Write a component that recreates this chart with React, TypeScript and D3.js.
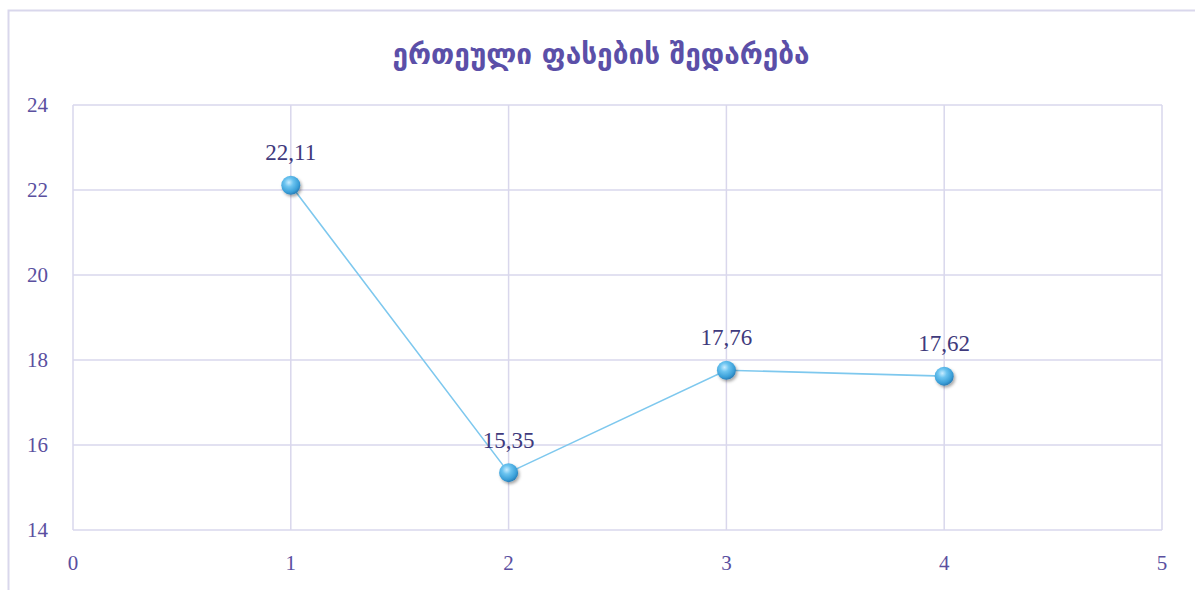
import React from "react";
import * as d3 from "d3";

const categories = [1, 2, 3, 4];
const values = [22.11, 15.35, 17.76, 17.62];
const valueLabels = ["22,11", "15,35", "17,76", "17,62"];
const xTicks = [0, 1, 2, 3, 4, 5];
const yTicks = [14, 16, 18, 20, 22, 24];
const title = "ერთეული ფასების შედარება";

export default function App() {
  const W = 1195, H = 590;
  const left = 73, right = 1162, top = 105, bottom = 530;
  const x = d3.scaleLinear().domain([0, 5]).range([left, right]);
  const y = d3.scaleLinear().domain([14, 24]).range([bottom, top]);
  const line = d3.line<number>().x((_, i) => x(categories[i])).y((d) => y(d));
  const grid = "#d9d7ec";
  const tickColor = "#5a4fa0";
  const serif = "'Liberation Serif', 'DejaVu Serif', serif";
  return (
    <div style={{ position: "fixed", left: 0, top: 0, width: W, height: H, background: "#fff" }}>
      <svg width={W} height={H} style={{ display: "block" }}>
        <defs>
          <radialGradient id="ball" cx="40%" cy="35%" r="65%">
            <stop offset="0%" stopColor="#c8ecff" />
            <stop offset="35%" stopColor="#6cc4f0" />
            <stop offset="80%" stopColor="#3a9fd8" />
            <stop offset="100%" stopColor="#2a7fb8" />
          </radialGradient>
          <filter id="shadow" x="-50%" y="-50%" width="200%" height="200%">
            <feDropShadow dx="1.5" dy="2" stdDeviation="1.5" floodColor="#000" floodOpacity="0.35" />
          </filter>
        </defs>
        <rect x={8.5} y={10.5} width={1200} height={700} fill="#fff" stroke={grid} strokeWidth={2} />
        <text x={601} y={64} textAnchor="middle" fill="#5b4fa8" fontFamily="'DejaVu Sans', sans-serif" fontSize={28} fontWeight="bold">
          {title}
        </text>
        {yTicks.map((t) => (
          <line key={"h" + t} x1={left} x2={right} y1={y(t)} y2={y(t)} stroke={grid} strokeWidth={1.5} />
        ))}
        {xTicks.map((t) => (
          <line key={"v" + t} x1={x(t)} x2={x(t)} y1={top} y2={bottom} stroke={grid} strokeWidth={1.5} />
        ))}
        {yTicks.map((t) => (
          <text key={"yl" + t} x={48} y={y(t)} dy="0.35em" textAnchor="end" fill={tickColor} fontFamily={serif} fontSize={21}>
            {t}
          </text>
        ))}
        {xTicks.map((t) => (
          <text key={"xl" + t} x={x(t)} y={563} dy="0.35em" textAnchor="middle" fill={tickColor} fontFamily={serif} fontSize={21}>
            {t}
          </text>
        ))}
        <path d={line(values) || ""} fill="none" stroke="#7ec8ee" strokeWidth={1.6} />
        {values.map((v, i) => (
          <circle key={"c" + i} cx={x(categories[i])} cy={y(v)} r={9.5} fill="url(#ball)" filter="url(#shadow)" />
        ))}
        {values.map((v, i) => (
          <text key={"dl" + i} x={x(categories[i])} y={y(v) - 25} textAnchor="middle" fill="#3f3a7c" fontFamily={serif} fontSize={23}>
            {valueLabels[i]}
          </text>
        ))}
      </svg>
    </div>
  );
}
